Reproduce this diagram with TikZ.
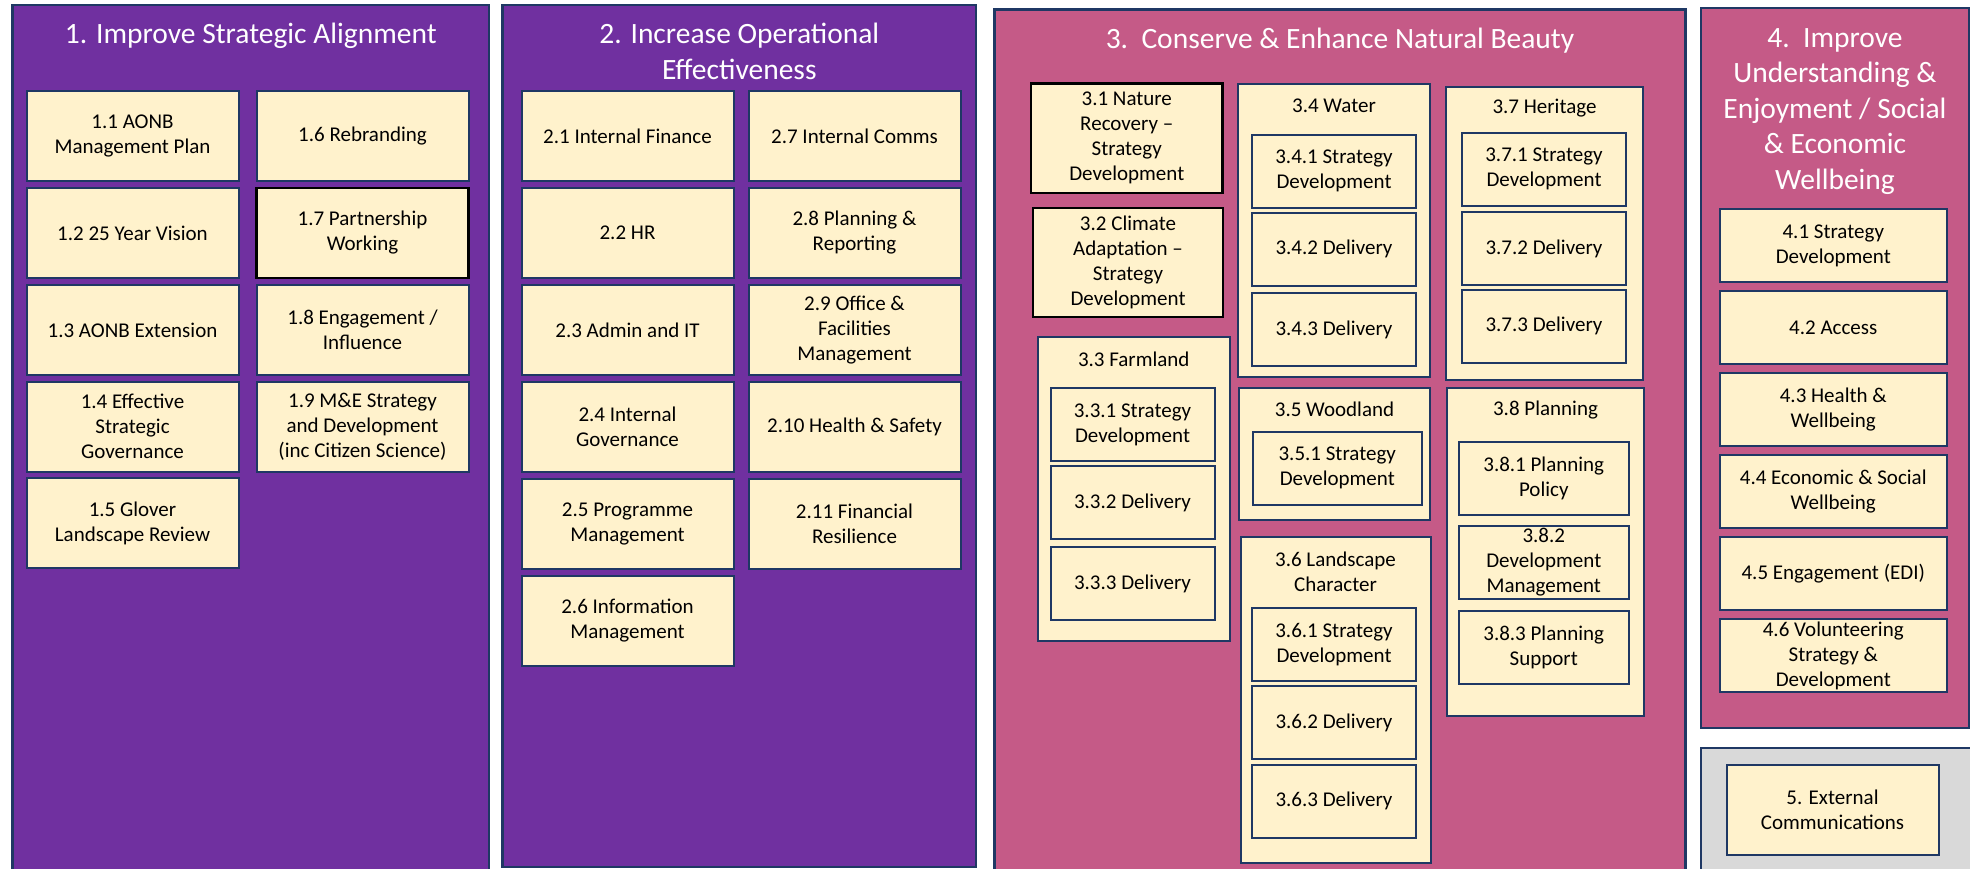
\documentclass[tikz,border=0pt]{standalone}
\usepackage{fontspec}
\setmainfont{Carlito}
\usetikzlibrary{positioning}
\definecolor{aonbpurple}{RGB}{112,48,160}
\definecolor{aonbpink}{RGB}{197,90,135}
\definecolor{aonbnavy}{RGB}{31,56,100}
\definecolor{aonbcream}{RGB}{255,242,204}
\definecolor{aonbgrey}{RGB}{217,217,217}
\newcommand{\boxfont}{\fontsize{21}{25}\selectfont}
\newcommand{\headfont}{\fontsize{29.5}{35.5}\selectfont}
\tikzset{
  panelbox/.style   = {draw=aonbnavy, line width=2.5pt, fill=#1, anchor=north west,
                       inner sep=0pt, outer sep=0pt},
  headtext/.style   = {text=white, align=center, font=\headfont, inner sep=0pt},
  taskbox/.style    = {draw=aonbnavy, line width=2pt, fill=aonbcream, anchor=north west,
                       minimum width=212pt, minimum height=90pt, align=center,
                       font=\boxfont, inner xsep=2pt, inner ysep=1pt, outer sep=0pt},
  subbox/.style     = {taskbox, minimum width=164pt, minimum height=73pt},
  wellbox/.style    = {taskbox, minimum width=226.5pt, minimum height=73pt},
  groupbox/.style   = {draw=aonbnavy, line width=2pt, fill=aonbcream, anchor=north west,
                       inner sep=0pt, outer sep=0pt},
  grouptitle/.style = {align=center, font=\boxfont, inner sep=0pt},
  keybox/.style     = {draw=black, line width=2.5pt},
}

\begin{document}
\begin{tikzpicture}[x=1pt, y=-1pt]
  \useasboundingbox (0,0) rectangle (1970,869);

  \node[panelbox=aonbpurple, minimum width=476.5pt, minimum height=866pt] (p1) at (12.5,5) {};
  \node[panelbox=aonbpurple, minimum width=473.5pt, minimum height=862pt] (p2) at (502.5,5) {};
  \node[panelbox=aonbpink, minimum width=691pt, minimum height=862pt] (p3) at (994.5,9.5) {};
  \node[panelbox=aonbpink, minimum width=268pt, minimum height=720pt] (p4) at (1701,8) {};
  \node[panelbox=aonbgrey, minimum width=270pt, minimum height=123pt] (p5) at (1701,748) {};

  \node[headtext] (h1) at ([yshift=-31pt]p1.north) {1. Improve Strategic Alignment};
  \node[headtext] (h2) at ([yshift=-46.5pt]p2.north) {2. Increase Operational\\Effectiveness};
  \node[headtext] (h3) at ([yshift=-31pt]p3.north) {3.\ \ Conserve \& Enhance Natural Beauty};
  \node[headtext] (h4) at ([yshift=-103.5pt]p4.north)
    {4.\ \ Improve\\Understanding \&\\Enjoyment / Social\\\& Economic\\Wellbeing};

  \node[taskbox] (b11) at (26.5,91) {1.1 AONB\\Management Plan};
  \node[taskbox, below=7pt of b11] (b12) {1.2 25 Year Vision};
  \node[taskbox, below=7pt of b12] (b13) {1.3 AONB Extension};
  \node[taskbox, below=6.5pt of b13] (b14) {1.4 Effective\\Strategic\\Governance};
  \node[taskbox, below=6.5pt of b14] (b15) {1.5 Glover\\Landscape Review};
  \node[taskbox] (b16) at (256.5,91) {1.6 Rebranding};
  \node[taskbox, keybox, below=7pt of b16] (b17) {1.7 Partnership\\Working};
  \node[taskbox, below=7pt of b17] (b18) {1.8 Engagement /\\Influence};
  \node[taskbox, below=7pt of b18] (b19) {1.9 M\&E Strategy\\and Development\\(inc Citizen Science)};

  \node[taskbox] (b21) at (521.5,91) {2.1 Internal Finance};
  \node[taskbox, below=7pt of b21] (b22) {2.2 HR};
  \node[taskbox, below=7pt of b22] (b23) {2.3 Admin and IT};
  \node[taskbox, below=7pt of b23] (b24) {2.4 Internal\\Governance};
  \node[taskbox, below=7pt of b24] (b25) {2.5 Programme\\Management};
  \node[taskbox, below=7pt of b25] (b26) {2.6 Information\\Management};
  \node[taskbox] (b27) at (748.5,91) {2.7 Internal Comms};
  \node[taskbox, below=7pt of b27] (b28) {2.8 Planning \&\\Reporting};
  \node[taskbox, below=7pt of b28] (b29) {2.9 Office \&\\Facilities\\Management};
  \node[taskbox, below=7pt of b29] (b210) {2.10 Health \& Safety};
  \node[taskbox, below=7pt of b210] (b211) {2.11 Financial\\Resilience};

  \node[taskbox, keybox, minimum width=191.5pt, minimum height=109.5pt] (b31) at (1031,83.3)
    {3.1 Nature\\Recovery --\\Strategy\\Development};
  \node[taskbox, keybox, minimum width=190pt, minimum height=109pt] (b32) at (1033,208)
    {3.2 Climate\\Adaptation --\\Strategy\\Development};

  \node[groupbox, minimum width=191.5pt, minimum height=304pt] (c33) at (1038,337) {};
  \node[grouptitle] (t33) at ([yshift=-22pt]c33.north) {3.3 Farmland};
  \node[subbox] (s331) at (1050.5,388.3) {3.3.1 Strategy\\Development};
  \node[subbox, below=5pt of s331] (s332) {3.3.2 Delivery};
  \node[subbox, below=8pt of s332] (s333) {3.3.3 Delivery};

  \node[groupbox, minimum width=192pt, minimum height=293pt] (c34) at (1238,84) {};
  \node[grouptitle] (t34) at ([yshift=-22pt]c34.north) {3.4 Water};
  \node[subbox] (s341) at (1252,134.7) {3.4.1 Strategy\\Development};
  \node[subbox, below=5pt of s341] (s342) {3.4.2 Delivery};
  \node[subbox, below=7.5pt of s342] (s343) {3.4.3 Delivery};

  \node[groupbox, minimum width=191pt, minimum height=132pt] (c35) at (1239,388) {};
  \node[grouptitle] (t35) at ([yshift=-21pt]c35.north) {3.5 Woodland};
  \node[subbox, minimum width=169.5pt] (s351) at (1252.5,431.7) {3.5.1 Strategy\\Development};

  \node[groupbox, minimum width=190pt, minimum height=326pt] (c36) at (1240.5,537) {};
  \node[grouptitle] (t36) at ([yshift=-34.5pt]c36.north) {3.6 Landscape\\Character};
  \node[subbox] (s361) at (1252,607.7) {3.6.1 Strategy\\Development};
  \node[subbox, below=5.5pt of s361] (s362) {3.6.2 Delivery};
  \node[subbox, below=5.5pt of s362] (s363) {3.6.3 Delivery};

  \node[groupbox, minimum width=197pt, minimum height=292.5pt] (c37) at (1446,87) {};
  \node[grouptitle] (t37) at ([yshift=-21pt]c37.north) {3.7 Heritage};
  \node[subbox] (s371) at (1462,132.7) {3.7.1 Strategy\\Development};
  \node[subbox, below=6.5pt of s371] (s372) {3.7.2 Delivery};
  \node[subbox, below=4.5pt of s372] (s373) {3.7.3 Delivery};

  \node[groupbox, minimum width=197pt, minimum height=328pt] (c38) at (1447,388) {};
  \node[grouptitle] (t38) at ([yshift=-22pt]c38.north) {3.8 Planning};
  \node[subbox, minimum width=170pt] (s381) at (1458.75,441.7) {3.8.1 Planning\\Policy};
  \node[subbox, minimum width=170pt, inner ysep=0pt, below=11.3pt of s381] (s382)
    {3.8.2\\Development\\Management};
  \node[subbox, minimum width=170pt, below=11.7pt of s382] (s383) {3.8.3 Planning\\Support};

  \node[wellbox] (b41) at (1720,209) {4.1 Strategy\\Development};
  \node[wellbox, below=9pt of b41] (b42) {4.2 Access};
  \node[wellbox, below=9pt of b42] (b43) {4.3 Health \&\\Wellbeing};
  \node[wellbox, below=9pt of b43] (b44) {4.4 Economic \& Social\\Wellbeing};
  \node[wellbox, below=9pt of b44] (b45) {4.5 Engagement (EDI)};
  \node[wellbox, inner ysep=0pt, below=9pt of b45] (b46) {4.6 Volunteering\\Strategy \&\\Development};

  \node[taskbox] (b5) at (1726.5,765) {5. External\\Communications};
\end{tikzpicture}
\end{document}
